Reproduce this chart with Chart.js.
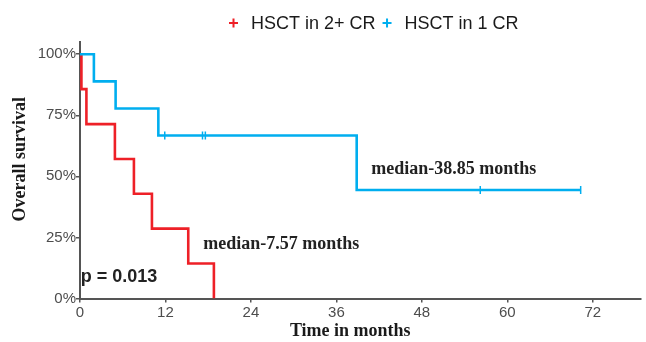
<!DOCTYPE html>
<html>
<head>
<meta charset="utf-8">
<title>Overall survival</title>
<script src="https://cdn.jsdelivr.net/npm/chart.js@4.4.1/dist/chart.umd.min.js"></script>
<style>
  html, body { margin: 0; padding: 0; background: #fff; overflow: hidden; }
  #wrap { width: 646px; height: 342px; position: relative; }
  canvas { display: block; }
</style>
</head>
<body>
<div id="wrap"><canvas id="kmChart"></canvas></div>
<script>
// Kaplan-Meier overall survival by remission status at HSCT

// Series
const seriesNames = ['HSCT in 2+ CR', 'HSCT in 1 CR'];
const seriesColors = ['#ee2027', '#00aeef'];

// Step points: time (months) and survival (%) after each event
const redTimes = [0, 0.2, 0.9, 4.9, 7.57, 10.1, 15.2, 18.8];
const redSurvival = [100, 85.7, 71.4, 57.1, 42.9, 28.6, 14.3, 0];
const blueTimes = [0, 1.95, 5.0, 11.0, 38.85, 70.3];
const blueSurvival = [100, 88.9, 77.8, 66.7, 44.4, 44.4];

// Censored follow-up times (months)
const blueCensored = [11.9, 17.2, 17.6, 56.2, 70.3];

// Axes
const xTicks = [0, 12, 24, 36, 48, 60, 72];
const yTicks = [0, 25, 50, 75, 100];
const xMax = 78.7;
const yMax = 105;

// Annotations (data coordinates)
const medianNotes = [
  { text: 'median-7.57 months', x: 17.3, y: 22.3 },
  { text: 'median-38.85 months', x: 40.9, y: 52.7 }
];
const pValue = { text: 'p = 0.013', x: 0.1, y: 8.8 };

const SANS = '"Liberation Sans", Arial, Helvetica, sans-serif';
const SERIF = '"Liberation Serif", "Times New Roman", Times, serif';

function toPoints(times, values) {
  return times.map((t, i) => ({ x: t, y: values[i] }));
}

// survival value of a step curve at time t
function survivalAt(times, values, t) {
  let s = values[0];
  times.forEach((time, i) => { if (time <= t) s = values[i]; });
  return s;
}

// Legend, axis titles and text notes
const overlayPlugin = {
  id: 'overlay',
  afterDraw(chart) {
    const ctx = chart.ctx;
    const area = chart.chartArea;
    const xs = chart.scales.x;
    const ys = chart.scales.y;

    ctx.save();

    // legend with "+" keys
    ctx.font = '18px ' + SANS;
    ctx.textBaseline = 'middle';
    ctx.textAlign = 'left';
    let lx = 229;
    const ly = 23;
    seriesNames.forEach((name, i) => {
      ctx.strokeStyle = seriesColors[i];
      ctx.lineWidth = 2;
      ctx.beginPath();
      ctx.moveTo(lx, ly); ctx.lineTo(lx + 9, ly);
      ctx.moveTo(lx + 4.5, ly - 4.5); ctx.lineTo(lx + 4.5, ly + 4.5);
      ctx.stroke();
      ctx.fillStyle = '#1a1a1a';
      ctx.fillText(name, lx + 22, ly + 1);
      lx += 22 + ctx.measureText(name).width + 7;
    });

    // axis titles
    ctx.fillStyle = '#1a1a1a';
    ctx.font = 'bold 18px ' + SERIF;
    ctx.textAlign = 'center';
    ctx.textBaseline = 'middle';
    ctx.fillText('Time in months', (area.left + area.right) / 2 - 10, 331);
    ctx.save();
    ctx.translate(20, (area.top + area.bottom) / 2 - 11);
    ctx.rotate(-Math.PI / 2);
    ctx.fillText('Overall survival', 0, 0);
    ctx.restore();

    // median notes
    ctx.textAlign = 'left';
    ctx.fillStyle = '#222';
    medianNotes.forEach(n => {
      ctx.fillText(n.text, xs.getPixelForValue(n.x), ys.getPixelForValue(n.y));
    });

    // log-rank p value
    ctx.font = 'bold 18px ' + SANS;
    ctx.fillText(pValue.text, xs.getPixelForValue(pValue.x), ys.getPixelForValue(pValue.y));

    ctx.restore();
  }
};

const axisColor = '#555555';

const chart = new Chart(document.getElementById('kmChart'), {
  type: 'line',
  data: {
    datasets: [
      {
        label: seriesNames[1],
        data: toPoints(blueTimes, blueSurvival),
        borderColor: seriesColors[1],
        borderWidth: 2.6,
        stepped: 'before',
        pointRadius: 0,
        fill: false
      },
      {
        label: 'censored',
        type: 'scatter',
        data: blueCensored.map(t => ({ x: t, y: survivalAt(blueTimes, blueSurvival, t) })),
        pointStyle: 'line',
        rotation: 90,
        pointRadius: 4,
        borderColor: seriesColors[1],
        borderWidth: 1.5,
        showLine: false
      },
      {
        label: seriesNames[0],
        data: toPoints(redTimes, redSurvival),
        borderColor: seriesColors[0],
        borderWidth: 2.6,
        stepped: 'before',
        pointRadius: 0,
        fill: false
      }
    ]
  },
  options: {
    responsive: true,
    maintainAspectRatio: false,
    animation: false,
    layout: { padding: { top: 42, right: 1, left: 0, bottom: 0 } },
    plugins: {
      legend: { display: false },
      tooltip: { enabled: false }
    },
    scales: {
      x: {
        type: 'linear',
        min: 0,
        max: xMax,
        afterBuildTicks: scale => { scale.ticks = xTicks.map(v => ({ value: v })); },
        afterFit: scale => {
          scale.height = 43.5;
          scale.paddingLeft = 0;
          scale.paddingRight = 0;
        },
        grid: { drawOnChartArea: false, drawTicks: true, tickLength: 4, color: axisColor, lineWidth: 1.5 },
        border: { display: true, color: axisColor, width: 2 },
        ticks: {
          padding: 1,
          color: '#4d4d4d',
          font: { family: SANS, size: 15 },
          maxRotation: 0
        }
      },
      y: {
        type: 'linear',
        min: 0,
        max: yMax,
        afterBuildTicks: scale => { scale.ticks = yTicks.map(v => ({ value: v })); },
        afterFit: scale => { scale.width = 80; },
        grid: { drawOnChartArea: false, drawTicks: true, tickLength: 4, color: axisColor, lineWidth: 1.5 },
        border: { display: true, color: axisColor, width: 2 },
        ticks: {
          padding: 0,
          color: '#4d4d4d',
          font: { family: SANS, size: 15 },
          callback: v => v + '%'
        }
      }
    }
  },
  plugins: [overlayPlugin]
});
</script>
</body>
</html>
